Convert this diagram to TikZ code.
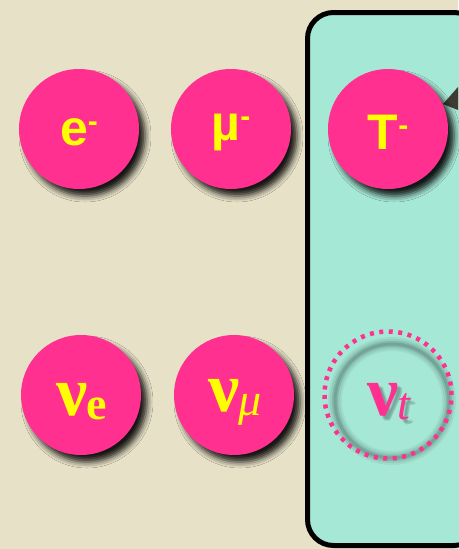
\documentclass[tikz,border=0pt]{standalone}
\usepackage{fontspec}
\setmainfont{Liberation Serif}
\newfontfamily\lsans{Liberation Sans}
\usetikzlibrary{shadows.blur}
\definecolor{bgbeige}{RGB}{231,225,199}
\definecolor{boxteal}{RGB}{166,232,214}
\definecolor{ppink}{RGB}{255,48,144}
\definecolor{pyellow}{RGB}{255,255,0}
\definecolor{ptri}{RGB}{62,60,50}
\tikzset{
  particle/.style={circle, fill=ppink, minimum size=120pt, inner sep=0pt,
    blur shadow={shadow xshift=6pt, shadow yshift=-7pt, shadow blur radius=6pt, shadow opacity=90}},
  leptxt/.style={text=pyellow, font=\lsans\bfseries\fontsize{50}{50}\selectfont},
  nutxt/.style={text=pyellow, font=\bfseries\fontsize{70}{70}\selectfont},
  ghost/.style={draw=ppink, line width=4.5pt, dash pattern=on 4pt off 5.5pt, circle, minimum size=127pt, inner sep=0pt},
}
\newcommand{\nusub}[2][\bfseries]{ν\kern-1pt\raisebox{-4pt}{\fontsize{46}{46}\selectfont#1#2}}
\begin{document}
\begin{tikzpicture}[x=1pt,y=-1pt]
\useasboundingbox (0,0) rectangle (458,549);
\fill[bgbeige] (0,0) rectangle (458,549);
% tau column box
\draw[line width=5pt, fill=boxteal, rounded corners=26pt] (307.5,12.5) rectangle (480,545.5);
% pointer triangle
\fill[ptri] (443,104) -- (458,87) -- (458,110) -- cycle;
% charged leptons
\node[particle] (e) at (79,129) {};
\node[particle] (mu) at (231,129) {};
\node[particle] (tau) at (388,129) {};
\node[leptxt] at ([yshift=-3pt]e) {e\raisebox{14pt}{\fontsize{30}{30}\selectfont -}};
\node[leptxt] at ([yshift=-3pt]mu) {\textmu\raisebox{14pt}{\fontsize{30}{30}\selectfont -}};
\node[leptxt] at ([yshift=-3pt]tau) {T\raisebox{14pt}{\fontsize{30}{30}\selectfont -}};
% neutrinos
\node[particle] (nue) at (81,395) {};
\node[particle] (numu) at (234,395) {};
\node[nutxt] at ([xshift=1pt,yshift=-7pt]nue) {\nusub{e}};
\node[nutxt] at ([xshift=1pt,yshift=-7pt]numu) {\nusub[\mdseries\itshape]{μ}};
% missing tau neutrino
\coordinate (nut) at (388,395);
\foreach \w/\o in {14/0.05,10/0.07,6/0.09,3/0.11}
  \draw[black, line width=\w pt, opacity=\o] ([xshift=4pt,yshift=-6pt]nut) circle[radius=57pt];
\node[ghost] (nutc) at (nut) {};
\foreach \dx/\dy in {4/-10,6/-11,5/-12}
  \node[nutxt, text=black, opacity=0.10] at ([xshift=\dx pt,yshift=\dy pt]nut) {\nusub[\mdseries\itshape]{t}};
\node[nutxt, text=ppink] at ([xshift=1pt,yshift=-7pt]nut) {\nusub[\mdseries\itshape]{t}};
\end{tikzpicture}
\end{document}
